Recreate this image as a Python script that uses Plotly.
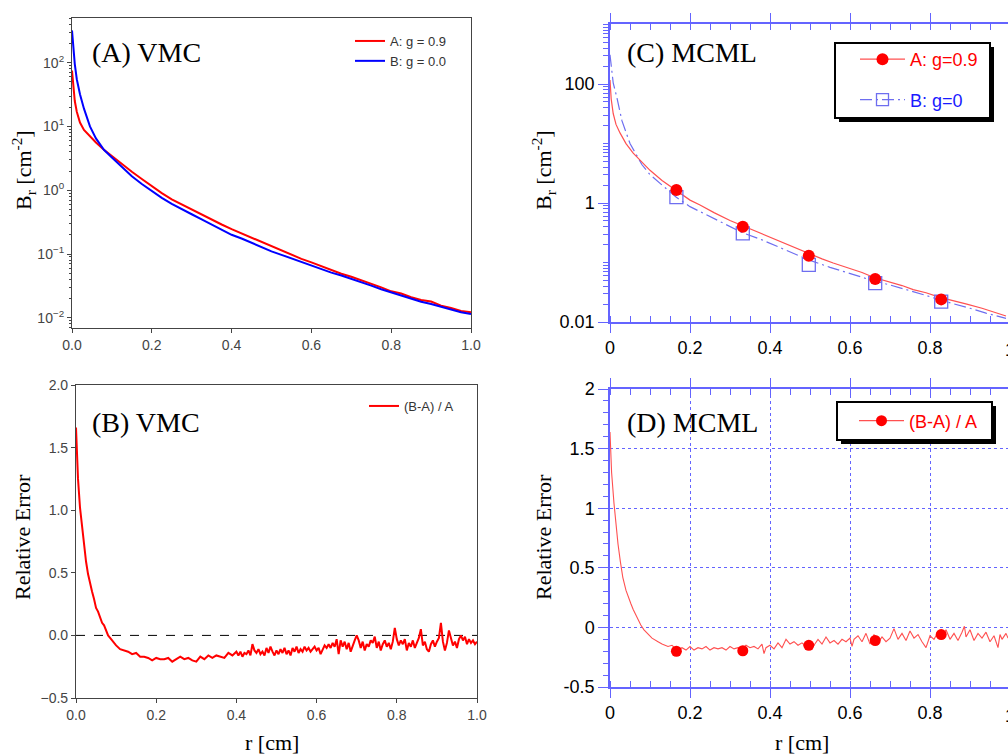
import plotly.graph_objects as go

W, H = 1008, 756
def fx(px): return px / W
def fy(py): return 1 - py / H

# ---------------- Data ----------------
# Panel A (VMC) reflectance vs r
rA = [0.0, 0.003, 0.007, 0.012, 0.02, 0.03, 0.045, 0.06, 0.08, 0.1, 0.125, 0.15, 0.175, 0.2,
      0.225, 0.25, 0.275, 0.3, 0.325, 0.35, 0.375, 0.4, 0.425, 0.45, 0.475, 0.5, 0.525, 0.55,
      0.575, 0.6, 0.625, 0.65, 0.675, 0.7, 0.725, 0.75, 0.775, 0.8, 0.825, 0.85, 0.875, 0.9,
      0.925, 0.95, 0.975, 1.0]
A_g09 = [75, 40, 25, 17, 11.5, 8.8, 7.0, 5.6, 4.3, 3.4, 2.6, 1.95, 1.5, 1.15, 0.9, 0.72, 0.60,
         0.50, 0.41, 0.345, 0.29, 0.245, 0.21, 0.18, 0.152, 0.13, 0.112, 0.097, 0.084, 0.074,
         0.064, 0.056, 0.049, 0.044, 0.039, 0.034, 0.030, 0.026, 0.024, 0.021, 0.019, 0.018,
         0.0155, 0.0142, 0.0128, 0.0122]
A_g00 = [320, 170, 95, 55, 32, 19, 10, 6.5, 4.3, 3.25, 2.35, 1.65, 1.25, 0.96, 0.76, 0.61, 0.50,
         0.42, 0.35, 0.29, 0.245, 0.20, 0.175, 0.15, 0.128, 0.11, 0.097, 0.085, 0.074, 0.065,
         0.057, 0.051, 0.046, 0.041, 0.036, 0.032, 0.028, 0.025, 0.022, 0.0195, 0.0178, 0.0165,
         0.0148, 0.0135, 0.0122, 0.0115]

# Panel B (VMC) relative error
rB = [0.0, 0.005, 0.01, 0.015, 0.02, 0.025, 0.03, 0.035, 0.04, 0.045, 0.05, 0.055, 0.06, 0.065,
      0.07, 0.075, 0.08, 0.085, 0.09, 0.095, 0.1,
      0.11, 0.12, 0.13, 0.14, 0.15, 0.16, 0.17, 0.18, 0.19, 0.2, 0.21, 0.22, 0.23, 0.24, 0.25,
      0.26, 0.27, 0.28, 0.29, 0.3, 0.31, 0.32, 0.33, 0.34, 0.35, 0.36, 0.37, 0.38, 0.39, 0.4,
      0.405, 0.41, 0.415, 0.42, 0.425, 0.43, 0.435, 0.44, 0.445, 0.45, 0.455, 0.46, 0.465, 0.47,
      0.475, 0.48, 0.485, 0.49, 0.495, 0.5, 0.505, 0.51, 0.515, 0.52, 0.525, 0.53, 0.535, 0.54,
      0.545, 0.55, 0.555, 0.56, 0.565, 0.57, 0.575, 0.58, 0.585, 0.59, 0.595, 0.6, 0.605, 0.61,
      0.615, 0.62, 0.625, 0.63, 0.635, 0.64, 0.645, 0.65, 0.655, 0.66, 0.665, 0.67, 0.675, 0.68,
      0.685, 0.69, 0.695, 0.7, 0.705, 0.71, 0.715, 0.72, 0.725, 0.73, 0.735, 0.74, 0.745, 0.75,
      0.755, 0.76, 0.765, 0.77, 0.775, 0.78, 0.785, 0.79, 0.795, 0.8, 0.805, 0.81, 0.815, 0.82,
      0.825, 0.83, 0.835, 0.84, 0.845, 0.85, 0.855, 0.86, 0.865, 0.87, 0.875, 0.88, 0.885, 0.89,
      0.895, 0.9, 0.905, 0.91, 0.915, 0.92, 0.925, 0.93, 0.935, 0.94, 0.945, 0.95, 0.955, 0.96,
      0.965, 0.97, 0.975, 0.98, 0.985, 0.99, 0.995, 1.0]
errB = [1.66, 1.25, 1.02, 0.86, 0.69, 0.59, 0.49, 0.41, 0.35, 0.29, 0.22, 0.19, 0.14, 0.10,
        0.08, 0.04, 0.0, -0.02, -0.04, -0.06, -0.08,
        -0.11, -0.12, -0.13, -0.15, -0.14, -0.17, -0.17, -0.18, -0.20, -0.18, -0.19, -0.19, -0.18,
        -0.21, -0.19, -0.17, -0.19, -0.18, -0.20, -0.21, -0.17, -0.19, -0.16, -0.18, -0.16, -0.17,
        -0.18, -0.14, -0.16, -0.13,
        -0.16, -0.13, -0.17, -0.14, -0.15, -0.12, -0.16, -0.07, -0.12, -0.14, -0.11, -0.15, -0.13,
        -0.16, -0.10, -0.14, -0.09, -0.13, -0.16, -0.12, -0.15, -0.11, -0.14, -0.10, -0.15, -0.12,
        -0.16, -0.10, -0.13, -0.09, -0.14, -0.11, -0.13, -0.09, -0.12, -0.10, -0.13, -0.11, -0.09,
        -0.12, -0.10, -0.15, -0.11, -0.08, -0.10, -0.07, -0.10, -0.06, -0.09, -0.03, -0.15, -0.04,
        -0.09, -0.05, -0.11, -0.06, -0.13, -0.08, -0.04, 0.0, -0.04, -0.10, -0.05, -0.12, -0.07,
        -0.09, -0.04, -0.06, -0.01, -0.10, -0.05, -0.12, -0.07, -0.04, -0.09, -0.06, -0.11, -0.05,
        0.06, -0.03, -0.08, -0.04, -0.07, -0.03, -0.12, -0.06, -0.09, -0.04, -0.10, -0.06, -0.02,
        0.05, -0.08, -0.05, -0.11, -0.13, -0.07, -0.04, -0.09, -0.05, -0.02, 0.10, -0.05, -0.12,
        -0.06, 0.04, -0.03, -0.08, -0.05, -0.10, -0.03, 0.0, -0.04, -0.01, -0.07, -0.03, -0.06,
        -0.04, -0.07, -0.05]
zero_r = [0.0, 1.0]
zero_v = [0.0, 0.0]

# Panel C (MCML) reflectance
rC_a = [0.0, 0.003, 0.008, 0.015, 0.025, 0.04, 0.058, 0.08, 0.1, 0.13, 0.165, 0.2, 0.225, 0.26,
        0.3, 0.33, 0.37, 0.4, 0.433, 0.465, 0.495, 0.53, 0.558, 0.6, 0.63, 0.66, 0.7, 0.73, 0.758,
        0.79, 0.825, 0.86, 0.892, 0.93, 0.96, 0.975, 0.99]
C_g09 = [117, 56, 32, 21, 15.1, 10, 6.9, 4.8, 3.55, 2.4, 1.62, 1.12, 0.93, 0.69, 0.51, 0.42,
         0.32, 0.26, 0.21, 0.17, 0.141, 0.115, 0.098, 0.079, 0.068, 0.056, 0.047, 0.041, 0.035,
         0.031, 0.026, 0.023, 0.020, 0.017, 0.0148, 0.0138, 0.0126]
rC_b = [0.0, 0.004, 0.008, 0.017, 0.03, 0.05, 0.08, 0.1, 0.13, 0.165, 0.2, 0.25, 0.3, 0.33, 0.38,
        0.43, 0.465, 0.495, 0.55, 0.6, 0.66, 0.7, 0.75, 0.79, 0.825, 0.86, 0.9, 0.94, 0.97, 0.99]
C_g00 = [310, 160, 105, 60, 24, 10, 4.4, 3.0, 2.0, 1.26, 0.87, 0.59, 0.41, 0.32, 0.24, 0.174,
         0.138, 0.112, 0.083, 0.065, 0.049, 0.042, 0.034, 0.028, 0.0234, 0.0204, 0.017, 0.0141,
         0.0126, 0.0115]
r_marks = [0.166, 0.332, 0.497, 0.663, 0.828]
C_mark_a = [1.65, 0.40, 0.13, 0.053, 0.024]
C_mark_b = [1.26, 0.31, 0.091, 0.045, 0.022]

# Panel D (MCML) relative error
rD = [0.0, 0.004, 0.01, 0.015, 0.02, 0.026, 0.032, 0.04, 0.046, 0.052, 0.058, 0.065, 0.071, 0.077,
      0.085, 0.094, 0.105, 0.12, 0.13, 0.145, 0.155, 0.165,
      0.17, 0.18, 0.19, 0.2, 0.21, 0.22, 0.23, 0.24, 0.25, 0.26, 0.27, 0.28, 0.29, 0.3, 0.31,
      0.32, 0.33, 0.34, 0.35, 0.36, 0.37, 0.38, 0.385, 0.39, 0.4, 0.41, 0.42, 0.43, 0.44, 0.45,
      0.46, 0.47, 0.48, 0.49, 0.5, 0.51, 0.52, 0.53, 0.54, 0.55, 0.56, 0.57, 0.58, 0.59, 0.6,
      0.605, 0.61, 0.62, 0.63, 0.64, 0.65, 0.66, 0.67, 0.68, 0.69, 0.7, 0.71, 0.72, 0.73, 0.74,
      0.75, 0.76, 0.77, 0.78, 0.79, 0.8, 0.81, 0.82, 0.83, 0.84, 0.85, 0.86, 0.87, 0.88, 0.886,
      0.89, 0.9, 0.91, 0.92, 0.93, 0.94, 0.95, 0.96, 0.97, 0.975, 0.98, 0.99, 0.995]
errD = [1.64, 1.30, 1.04, 0.85, 0.70, 0.55, 0.42, 0.31, 0.25, 0.20, 0.15, 0.10, 0.06, 0.02,
        -0.02, -0.05, -0.09, -0.12, -0.14, -0.16, -0.15, -0.18,
        -0.19, -0.17, -0.19, -0.16, -0.19, -0.17, -0.18, -0.16, -0.19, -0.17, -0.18, -0.17, -0.19,
        -0.16, -0.18, -0.17, -0.18, -0.15, -0.17, -0.16, -0.18, -0.14, -0.22, -0.17, -0.15, -0.18,
        -0.13, -0.17, -0.10, -0.14, -0.12, -0.15, -0.13, -0.16, -0.12, -0.15, -0.10, -0.14, -0.08,
        -0.13, -0.11, -0.14, -0.10, -0.12, -0.09, -0.16, -0.10, -0.07, -0.12, -0.05, -0.14, -0.06,
        -0.13, -0.08, -0.12, -0.09, -0.01, -0.10, -0.05, -0.11, -0.03, -0.09, -0.06, -0.12, -0.17,
        -0.07, -0.10, -0.04, -0.08, -0.02, -0.10, -0.05, -0.11, -0.04, 0.01, -0.08, -0.02, -0.11,
        -0.05, -0.09, -0.04, -0.12, -0.07, -0.17, -0.06, -0.10, -0.05, -0.09]
D_mark = [-0.20, -0.196, -0.15, -0.11, -0.06]

# Tick labels
ticks_A_x = [0, 0.2, 0.4, 0.6, 0.8, 1.0]
ticks_A_y = [0.01, 0.1, 1, 10, 100]
ticks_A_y_text = ["10<sup>\u22122</sup>", "10<sup>\u22121</sup>", "10<sup>0</sup>",
                  "10<sup>1</sup>", "10<sup>2</sup>"]
ticks_B_y = [-0.5, 0, 0.5, 1.0, 1.5, 2.0]
ticks_C_x = [0, 0.2, 0.4, 0.6, 0.8]
ticks_C_x_text = ["0", "0.2", "0.4", "0.6", "0.8"]
ticks_C_y = [0.01, 1, 100]
ticks_C_y_text = ["0.01", "1", "100"]
ticks_D_y = [-0.5, 0, 0.5, 1, 1.5, 2]
ticks_D_y_text = ["-0.5", "0", "0.5", "1", "1.5", "2"]

# ---------------- Styles ----------------
RED = "#ff0000"
BLUE = "#0000ff"
RED_THIN = "rgb(255,80,80)"
BLUE_THIN = "rgb(110,110,240)"
AXBLUE = "rgb(100,100,255)"
SERIF = "Liberation Serif"
SANS = "Liberation Sans"
DASHDOT = "12px,4px,2px,4px"

fig = go.Figure()

# Panel A
fig.add_trace(go.Scatter(x=rA, y=A_g09, mode="lines", line=dict(color=RED, width=2),
                         name="A: g = 0.9", xaxis="x", yaxis="y", legend="legend"))
fig.add_trace(go.Scatter(x=rA, y=A_g00, mode="lines", line=dict(color=BLUE, width=2),
                         name="B: g = 0.0", xaxis="x", yaxis="y", legend="legend"))
# Panel B
fig.add_trace(go.Scatter(x=zero_r, y=zero_v, mode="lines", line=dict(color="black", width=1, dash="dash"),
                         showlegend=False, xaxis="x2", yaxis="y2"))
fig.add_trace(go.Scatter(x=rB, y=errB, mode="lines", line=dict(color=RED, width=2),
                         name="(B-A) / A", xaxis="x2", yaxis="y2", legend="legend2"))
# Panel C
fig.add_trace(go.Scatter(x=rC_b, y=C_g00, mode="lines", line=dict(color=BLUE_THIN, width=1.2, dash=DASHDOT),
                         showlegend=False, xaxis="x3", yaxis="y3"))
fig.add_trace(go.Scatter(x=rC_a, y=C_g09, mode="lines", line=dict(color=RED_THIN, width=1.2),
                         showlegend=False, xaxis="x3", yaxis="y3"))
fig.add_trace(go.Scatter(x=r_marks, y=C_mark_b, mode="markers",
                         marker=dict(symbol="square-open", size=13, color=BLUE_THIN, line=dict(width=1.3)),
                         showlegend=False, xaxis="x3", yaxis="y3"))
fig.add_trace(go.Scatter(x=r_marks, y=C_mark_a, mode="markers",
                         marker=dict(symbol="circle", size=12, color=RED),
                         showlegend=False, xaxis="x3", yaxis="y3"))
fig.add_trace(go.Scatter(x=[None], y=[None], mode="lines+markers",
                         line=dict(color=RED_THIN, width=1.2), marker=dict(symbol="circle", size=12, color=RED),
                         name="<span style='color:#ff0000'>A: g=0.9</span>", legend="legend3",
                         legendgroup="ca", xaxis="x3", yaxis="y3"))
fig.add_trace(go.Scatter(x=[None], y=[None], mode="lines+markers",
                         line=dict(color=BLUE_THIN, width=1.2, dash=DASHDOT),
                         marker=dict(symbol="square-open", size=12, color=BLUE_THIN, line=dict(width=1.3)),
                         name="<span style='color:#1a1aff'>B: g=0</span>", legend="legend3",
                         legendgroup="cb", xaxis="x3", yaxis="y3"))
# Panel D
fig.add_trace(go.Scatter(x=rD, y=errD, mode="lines", line=dict(color=RED_THIN, width=1.1),
                         showlegend=False, xaxis="x4", yaxis="y4"))
fig.add_trace(go.Scatter(x=r_marks, y=D_mark, mode="markers", marker=dict(symbol="circle", size=11, color=RED),
                         showlegend=False, xaxis="x4", yaxis="y4"))
fig.add_trace(go.Scatter(x=[None], y=[None], mode="lines+markers",
                         line=dict(color=RED_THIN, width=1.2), marker=dict(symbol="circle", size=11, color=RED),
                         name="<span style='color:#ff0000'>(B-A) / A</span>", legend="legend4",
                         xaxis="x4", yaxis="y4"))

# ---------------- Axes ----------------
mpl_ax = dict(showline=True, linecolor="#444", linewidth=1.2, mirror=True, ticks="outside",
              ticklen=4, tickwidth=1, tickcolor="#444", automargin=False,
              tickfont=dict(family=SANS, size=14, color="#444"), showgrid=False, zeroline=False)
blue_x = dict(showline=True, linecolor=AXBLUE, linewidth=1.5, mirror="ticks", ticks="outside",
              ticklen=9, tickwidth=1.2, tickcolor=AXBLUE, automargin=False,
              tickfont=dict(family=SANS, size=18, color="black"), zeroline=False)
blue_y = dict(showline=True, linecolor=AXBLUE, linewidth=1.5, mirror=False, ticks="outside",
              ticklen=10, tickwidth=1.2, tickcolor=AXBLUE, automargin=False,
              tickfont=dict(family=SANS, size=18, color="black"), zeroline=False)

xdomAB_A = [fx(72), fx(471)]
xdomAB_B = [fx(76), fx(477)]
xdomCD = [fx(610), 1.0]

fig.update_layout(
    xaxis=dict(domain=xdomAB_A, range=[0, 1], tickvals=ticks_A_x, tickformat=".1f", anchor="y", **mpl_ax),
    yaxis=dict(domain=[fy(328), fy(18)], type="log", range=[-2.16, 2.70], tickvals=ticks_A_y,
               ticktext=ticks_A_y_text, anchor="x",
               minor=dict(tickmode="linear", dtick="D1", ticks="outside", ticklen=2, tickcolor="#444"),
               **mpl_ax),
    xaxis2=dict(domain=xdomAB_B, range=[0, 1], tickvals=ticks_A_x, tickformat=".1f", anchor="y2", **mpl_ax),
    yaxis2=dict(domain=[fy(698), fy(385)], range=[-0.5, 2.0], tickvals=ticks_B_y, tickformat=".1f",
                anchor="x2", **mpl_ax),
    xaxis3=dict(domain=xdomCD, range=[0, 0.995], tickvals=ticks_C_x, ticktext=ticks_C_x_text, anchor="y3",
                showgrid=False,
                minor=dict(tickmode="linear", tick0=0, dtick=0.05, ticks="inside", ticklen=6, tickcolor=AXBLUE),
                **blue_x),
    yaxis3=dict(domain=[fy(322), fy(24)], type="log", range=[-2, 3.01], tickvals=ticks_C_y,
                ticktext=ticks_C_y_text, anchor="x3", showgrid=False,
                minor=dict(tickmode="linear", dtick="D1", ticks="outside", ticklen=5, tickcolor=AXBLUE),
                **blue_y),
    xaxis4=dict(domain=xdomCD, range=[0, 0.995], tickvals=ticks_C_x, ticktext=ticks_C_x_text, anchor="y4",
                showgrid=True, gridcolor=AXBLUE, griddash="dot", gridwidth=1,
                minor=dict(tickmode="linear", tick0=0, dtick=0.05, ticks="inside", ticklen=6, tickcolor=AXBLUE,
                           showgrid=False),
                **blue_x),
    yaxis4=dict(domain=[fy(687), fy(389)], range=[-0.5, 2.0], tickvals=ticks_D_y, ticktext=ticks_D_y_text,
                anchor="x4", showgrid=True, gridcolor=AXBLUE, griddash="dot", gridwidth=1,
                minor=dict(tickmode="linear", tick0=0, dtick=0.1, ticks="outside", ticklen=5, tickcolor=AXBLUE,
                           showgrid=False),
                **blue_y),
)

# ---------------- Legends ----------------
fig.update_layout(
    width=W, height=H, margin=dict(l=0, r=0, t=0, b=0, autoexpand=False),
    paper_bgcolor="white", plot_bgcolor="white",
    legend=dict(x=fx(350), y=fy(26), xanchor="left", yanchor="top", bgcolor="rgba(0,0,0,0)",
                font=dict(family=SANS, size=13, color="#333")),
    legend2=dict(x=fx(364), y=fy(391), xanchor="left", yanchor="top", bgcolor="rgba(0,0,0,0)",
                 font=dict(family=SANS, size=13, color="#333")),
    legend3=dict(x=fx(983), y=fy(41), xanchor="right", yanchor="top", bgcolor="rgba(0,0,0,0)",
                 font=dict(family=SANS, size=18, color="red"), traceorder="grouped", tracegroupgap=14,
                 itemwidth=45),
    legend4=dict(x=fx(983), y=fy(421), xanchor="right", yanchor="middle", bgcolor="rgba(0,0,0,0)",
                 font=dict(family=SANS, size=18, color="red"), itemwidth=45),
)

# Legend boxes with drop shadows (C and D)
shapes = []
for (x0, y0, x1, y1) in [(835, 43, 990, 118), (837, 402, 992, 440)]:
    shapes.append(dict(type="rect", xref="paper", yref="paper", x0=fx(x0 + 4), x1=fx(x1 + 4),
                       y0=fy(y1 + 4), y1=fy(y0 + 4), fillcolor="black", line=dict(width=0), layer="above"))
    shapes.append(dict(type="rect", xref="paper", yref="paper", x0=fx(x0), x1=fx(x1),
                       y0=fy(y1), y1=fy(y0), fillcolor="white", line=dict(color="black", width=2),
                       layer="above"))
fig.update_layout(shapes=shapes)

# ---------------- Annotations ----------------
ann = []
def text(px, py, s, size, family=SERIF, xanchor="left", angle=0, color="black"):
    ann.append(dict(x=fx(px), y=fy(py), xref="paper", yref="paper", text=s, showarrow=False,
                    xanchor=xanchor, yanchor="middle", textangle=angle,
                    font=dict(family=family, size=size, color=color)))

text(90, 52, "(A) VMC", 28)
text(90, 422, "(B) VMC", 28)
text(625, 52, "(C) MCML", 28)
text(625, 422, "(D) MCML", 28)
text(23, 170, "B<sub>r</sub> [cm<sup>-2</sup>]", 22, xanchor="center", angle=-90)
text(22, 537, "Relative Error", 22, xanchor="center", angle=-90)
text(543, 170, "B<sub>r</sub> [cm<sup>-2</sup>]", 22, xanchor="center", angle=-90)
text(543, 537, "Relative Error", 22, xanchor="center", angle=-90)
text(272, 742, "r [cm]", 22, xanchor="center")
text(802, 742, "r [cm]", 22, xanchor="center")
text(1010, 350, "1", 18, family=SANS, xanchor="center")
text(1010, 716, "1", 18, family=SANS, xanchor="center")
fig.update_layout(annotations=ann)

fig.write_html("out.html")
